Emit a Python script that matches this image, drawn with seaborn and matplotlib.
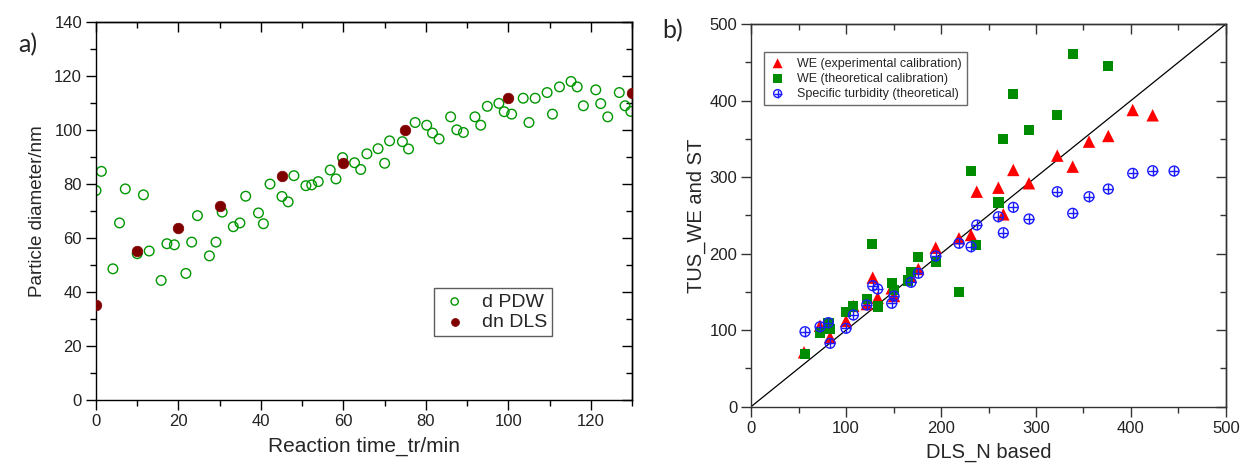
import numpy as np
import pandas as pd
import seaborn as sns
import matplotlib.pyplot as plt
from matplotlib.ticker import MultipleLocator
from matplotlib.legend_handler import HandlerTuple

# ---- panel a) particle diameter vs reaction time
pdw_time = [0.0, 1.3, 4.1, 5.7, 7.1, 10.0, 11.5, 12.9, 15.8, 17.2, 19.0, 21.8, 23.2,
            24.6, 27.5, 29.1, 30.6, 33.3, 34.9, 36.3, 39.4, 40.6, 42.2, 45.1, 46.6,
            48.0, 50.9, 52.3, 53.9, 56.8, 58.2, 59.8, 62.7, 64.2, 65.7, 68.4, 70.0,
            71.2, 74.3, 75.8, 77.4, 80.2, 81.6, 83.2, 86.0, 87.5, 89.1, 91.9, 93.3,
            94.9, 97.7, 99.0, 100.8, 103.6, 105.0, 106.5, 109.4, 110.7, 112.4, 115.2,
            116.7, 118.2, 121.2, 122.4, 124.1, 126.9, 128.3, 129.7]
pdw_diam = [77.6, 84.7, 48.6, 65.6, 78.2, 54.2, 76.0, 55.2, 44.3, 57.9, 57.5, 46.9, 58.5,
            68.3, 53.4, 58.5, 69.6, 64.2, 65.6, 75.5, 69.3, 65.3, 80.0, 75.4, 73.4,
            83.1, 79.4, 79.7, 80.9, 85.2, 81.9, 89.8, 87.9, 85.4, 91.2, 93.1, 87.7,
            96.0, 95.7, 93.0, 102.8, 101.8, 98.9, 96.7, 104.9, 100.1, 99.1, 104.9, 101.8,
            108.8, 109.9, 106.8, 105.9, 111.8, 102.8, 111.8, 113.9, 105.9, 116.0, 118.0,
            116.0, 109.0, 114.9, 109.8, 104.9, 113.9, 109.0, 106.9]
dls_time = [0, 10, 20, 30, 45, 60, 75, 100, 130]
dls_diam = [35.1, 55.2, 63.9, 72.0, 83.0, 87.9, 100.0, 111.8, 113.9]

# ---- panel b) TUS vs DLS
we_exp_x = [55.8, 72.6, 83.2, 100, 107.7, 121.8, 128.1, 133.3, 148.1, 150.5, 168.4, 176.1,
            194.4, 218.9, 231.6, 237.6, 260.4, 265.6, 276.1, 292.6, 322.4, 338.6, 355.8,
            376.1, 401.8, 422.8]
we_exp_y = [71.1, 105.8, 90.7, 112, 131.6, 134, 168.6, 142.4, 154.6, 144.6, 169.9, 179.9,
            207.7, 220, 224.3, 280.9, 286.1, 251.3, 309.3, 291.9, 328, 313.6, 346.3,
            353.7, 387.6, 380.7]
we_theo_x = [56.8, 72.6, 81.4, 83.2, 100, 107.7, 121.8, 127.7, 134, 148.1, 150.5, 165.0,
             168.4, 176.1, 194.4, 218.9, 231.6, 236.8, 260.4, 265.6, 276.1, 292.6, 322.4,
             339.3, 376.1]
we_theo_y = [68.9, 96.7, 108.9, 101.5, 124.1, 130.7, 140.3, 212.2, 130.7, 161.2, 152.5, 165.0,
             176.4, 195.2, 188.7, 149.5, 308, 211.3, 266.6, 349.3, 408.1, 361.5, 380.7,
             460.8, 445.1]
st_x = [56.8, 72.6, 81.4, 83.2, 100, 107.7, 121.8, 128.1, 133.3, 148.1, 150.5, 168.4, 176.1,
        194.4, 218.9, 231.6, 237.6, 260.4, 265.6, 276.1, 292.6, 322.4, 338.6, 355.8, 376.1,
        401.8, 422.8, 445.3]
st_y = [98, 104.5, 109.8, 82.8, 102.4, 119.8, 132.9, 158.1, 153.8, 135.1, 144.6, 162.5, 174.3,
        196.9, 213.5, 209, 237.4, 248.2, 227.3, 260.5, 245.2, 280.9, 252.7, 274.4, 284.4,
        304.9, 308.3, 307.9]
diag = [0, 500]

sns.set_style("white")
plt.rcParams['font.family'] = ['Liberation Sans', 'DejaVu Sans']


def origin_ticks(ax, xmaj, xmin, ymaj, ymin, col='black'):
    # Origin style: ticks out on bottom/left, mirrored ticks in on top/right
    ax.xaxis.set_major_locator(MultipleLocator(xmaj))
    ax.xaxis.set_minor_locator(MultipleLocator(xmin))
    ax.yaxis.set_major_locator(MultipleLocator(ymaj))
    ax.yaxis.set_minor_locator(MultipleLocator(ymin))
    ax.tick_params(which='major', direction='out', length=7, width=1, labelsize=12,
                   pad=3, bottom=True, left=True, color=col, labelcolor='#222222')
    ax.tick_params(which='minor', direction='out', length=4, width=1,
                   bottom=True, left=True, color=col)
    top = ax.secondary_xaxis('top')
    top.xaxis.set_major_locator(MultipleLocator(xmaj))
    top.xaxis.set_minor_locator(MultipleLocator(xmin))
    top.tick_params(which='major', direction='in', length=7, width=1, labeltop=False, color=col)
    top.tick_params(which='minor', direction='in', length=4, width=1, color=col)
    right = ax.secondary_yaxis('right')
    right.yaxis.set_major_locator(MultipleLocator(ymaj))
    right.yaxis.set_minor_locator(MultipleLocator(ymin))
    right.tick_params(which='major', direction='in', length=7, width=1, labelright=False, color=col)
    right.tick_params(which='minor', direction='in', length=4, width=1, color=col)
    for sp in list(ax.spines.values()) + [top.spines['top'], right.spines['right']]:
        sp.set_color(col)
        sp.set_linewidth(1)


fig = plt.figure(figsize=(12.42, 4.66), dpi=100)

# ---------------- a)
ax1 = fig.add_axes([0.0773, 0.1416, 0.4316, 0.811])
sns.scatterplot(x=pdw_time, y=pdw_diam, ax=ax1, marker='o', s=48, facecolor='none',
                edgecolor='#009600', linewidth=1.0, label='d PDW', zorder=2)
sns.scatterplot(x=dls_time, y=dls_diam, ax=ax1, marker='o', s=58, color='#800000',
                edgecolor='#800000', linewidth=0.5, label='dn DLS', zorder=3)
ax1.set_xlim(0, 130)
ax1.set_ylim(0, 140)
origin_ticks(ax1, 20, 10, 20, 10)
ax1.set_xlabel('Reaction time_tr/min', fontsize=15, labelpad=6)
ax1.set_ylabel('Particle diameter/nm', fontsize=13.5, labelpad=6)
leg1 = ax1.legend(loc='upper left', bbox_to_anchor=(0.631, 0.296), borderaxespad=0,
                  fontsize=14, frameon=True, fancybox=False, edgecolor='#333333',
                  labelspacing=0.15, borderpad=0.25, handletextpad=0.6,
                  handlelength=1.6, markerscale=0.75)
leg1.get_frame().set_linewidth(1)

# ---------------- b)
ax2 = fig.add_axes([0.6047, 0.1273, 0.3824, 0.8212])
sns.lineplot(x=diag, y=diag, ax=ax2, color='black', linewidth=0.9, zorder=1)
sns.scatterplot(x=we_exp_x, y=we_exp_y, ax=ax2, marker='^', s=80, color='#ff0000',
                edgecolor='none', zorder=2)
h_exp = ax2.collections[-1]
sns.scatterplot(x=we_theo_x, y=we_theo_y, ax=ax2, marker='s', s=55, color='#008c00',
                edgecolor='none', zorder=3)
h_theo = ax2.collections[-1]
sns.scatterplot(x=st_x, y=st_y, ax=ax2, marker='o', s=50, facecolor='none',
                edgecolor='#1a1aff', linewidth=1.0, zorder=4)
h_st1 = ax2.collections[-1]
sns.scatterplot(x=st_x, y=st_y, ax=ax2, marker='+', s=50, color='#1a1aff',
                linewidth=1.0, zorder=4)
h_st2 = ax2.collections[-1]
ax2.set_xlim(0, 500)
ax2.set_ylim(0, 500)
origin_ticks(ax2, 100, 50, 100, 50, col='#333333')
ax2.set_xlabel('DLS_N based', fontsize=14.5, labelpad=5)
ax2.set_ylabel('TUS_WE and ST', fontsize=14.5, labelpad=2)
leg2 = ax2.legend([h_exp, h_theo, (h_st1, h_st2)],
                  ['WE (experimental calibration)', 'WE (theoretical calibration)',
                   'Specific turbidity (theoretical)'],
                  handler_map={tuple: HandlerTuple(ndivide=1)},
                  loc='upper left', bbox_to_anchor=(0.027, 0.927), borderaxespad=0,
                  fontsize=9, frameon=True, fancybox=False, edgecolor='#444444',
                  labelspacing=0.25, borderpad=0.45, handletextpad=0.9,
                  handlelength=1.3, markerscale=0.8)
leg2.get_frame().set_linewidth(1)

fig.text(0.015, 0.905, 'a)', fontsize=18, family=['Lato', 'DejaVu Sans'], va='center')
fig.text(0.533, 0.935, 'b)', fontsize=18, family=['Lato', 'DejaVu Sans'], va='center')

fig.savefig('out.png', dpi=100)
